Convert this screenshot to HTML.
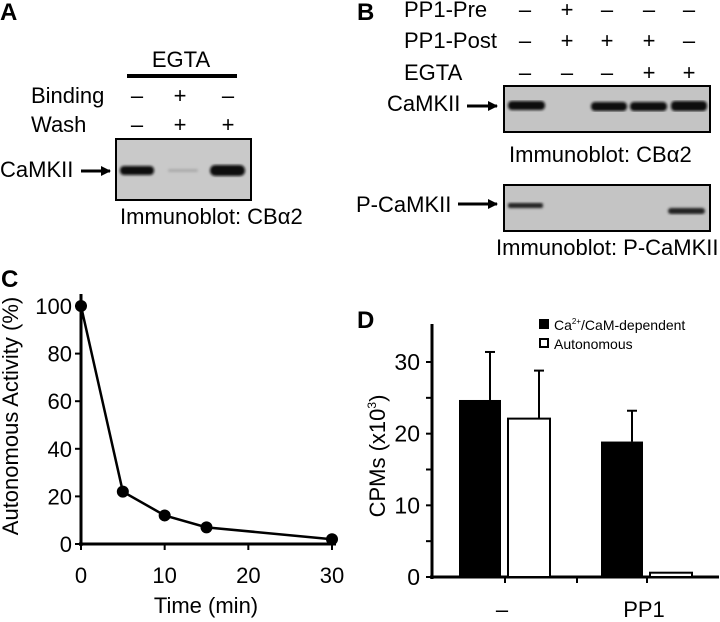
<!DOCTYPE html>
<html><head><meta charset="utf-8"><style>
html,body{margin:0;padding:0;background:#fff;}
svg{display:block;font-family:"Liberation Sans",Arial,sans-serif;}
</style></head><body>
<svg id="fig" width="720" height="622" viewBox="0 0 720 622">
<defs>
<marker id="ah" markerWidth="10" markerHeight="10" refX="9" refY="5" orient="auto" markerUnits="userSpaceOnUse"><path d="M0,0 L10,5 L0,10 Z" fill="#000"/></marker>
<filter id="blur"><feGaussianBlur stdDeviation="1.2"/></filter>
</defs>
<!-- Panel A -->
<g font-size="22">
<text x="0" y="20" font-size="24" font-weight="bold">A</text>
<text x="181" y="67" text-anchor="middle">EGTA</text>
<rect x="127" y="74" width="110" height="4" fill="#000"/>
<text x="31" y="103">Binding</text>
<text x="31" y="132">Wash</text>
<g text-anchor="middle">
<text x="137" y="103">–</text><text x="180" y="103">+</text><text x="228" y="103">–</text>
<text x="137" y="132">–</text><text x="180" y="132">+</text><text x="228" y="132">+</text>
</g>
<rect x="116" y="139" width="135" height="61" fill="#c9c9c9" stroke="#000" stroke-width="2"/>
<g filter="url(#blur)">
<rect x="120" y="166" width="34" height="9" rx="4" fill="#111"/>
<rect x="168" y="169" width="30" height="3" rx="1.5" fill="#aaa"/>
<rect x="210" y="165" width="35" height="11" rx="5" fill="#111"/>
</g>
<text x="0" y="177">CaMKII</text>
<line x1="81" y1="171" x2="110" y2="171" stroke="#000" stroke-width="3" marker-end="url(#ah)"/>
<text x="120" y="224">Immunoblot: CBα2</text>
</g>
<!-- Panel B -->
<g font-size="22">
<text x="357" y="20" font-size="24" font-weight="bold">B</text>
<text x="404" y="17">PP1-Pre</text>
<text x="404" y="48">PP1-Post</text>
<text x="404" y="80">EGTA</text>
<g text-anchor="middle">
<text x="525" y="17">–</text><text x="567" y="17">+</text><text x="607" y="17">–</text><text x="649" y="17">–</text><text x="689" y="17">–</text>
<text x="525" y="48">–</text><text x="567" y="48">+</text><text x="607" y="48">+</text><text x="649" y="48">+</text><text x="689" y="48">–</text>
<text x="525" y="80">–</text><text x="567" y="80">–</text><text x="607" y="80">–</text><text x="649" y="80">+</text><text x="689" y="80">+</text>
</g>
<rect x="504" y="86" width="206" height="46" fill="#c4c4c4" stroke="#000" stroke-width="2"/>
<g filter="url(#blur)">
<rect x="508" y="101" width="37" height="9" rx="4" fill="#111"/>
<rect x="591" y="102" width="36" height="9" rx="4" fill="#111"/>
<rect x="630" y="102" width="37" height="9" rx="4" fill="#111"/>
<rect x="671" y="101" width="36" height="10" rx="4" fill="#111"/>
</g>
<text x="387" y="111">CaMKII</text>
<line x1="467" y1="106" x2="497" y2="106" stroke="#000" stroke-width="3" marker-end="url(#ah)"/>
<text x="509" y="162">Immunoblot: CBα2</text>
<rect x="504" y="185" width="206" height="46" fill="#c4c4c4" stroke="#000" stroke-width="2"/>
<g filter="url(#blur)">
<rect x="508" y="203" width="35" height="5" rx="2" fill="#222"/>
<rect x="668" y="208" width="37" height="6" rx="3" fill="#222"/>
</g>
<text x="356" y="212">P-CaMKII</text>
<line x1="458" y1="204" x2="497" y2="204" stroke="#000" stroke-width="3" marker-end="url(#ah)"/>
<text x="496" y="255">Immunoblot: P-CaMKII</text>
</g>
<!-- Panel C -->
<g id="panelC" font-size="22">
<text x="1" y="287" font-size="24" font-weight="bold">C</text>
<text transform="translate(18,416) rotate(-90)" text-anchor="middle">Autonomous Activity (%)</text>
<text x="206" y="613" text-anchor="middle">Time (min)</text>
</g>
<!-- Panel D -->
<g id="panelD" font-size="22">
<text x="357" y="328" font-size="24" font-weight="bold">D</text>
<text transform="translate(385,456) rotate(-90)" text-anchor="middle">CPMs (x10<tspan font-size="12" dy="-9">3</tspan><tspan dy="9">)</tspan></text>
<rect x="539" y="319" width="10" height="10" fill="#000"/>
<text x="554" y="330" font-size="14">Ca<tspan font-size="8" dy="-6">2+</tspan><tspan dy="6">/CaM-dependent</tspan></text>
<rect x="540" y="339" width="8" height="8" fill="#fff" stroke="#000" stroke-width="2"/>
<text x="554" y="349" font-size="14">Autonomous</text>
</g>
</svg>
<script>
var NS="http://www.w3.org/2000/svg";
// Panel C data
var timeValues=[0,5,10,15,30];
var activityValues=[100,22,12,7,2];
var cXTicks=[0,10,20,30];
var cYTicks=[0,20,40,60,80,100];
// Panel D data
var dCategories=["–","PP1"];
var dependentValues=[24.7,18.9];
var dependentErrors=[6.7,4.3];
var autonomousValues=[22.1,0.6];
var autonomousErrors=[6.7,0];
var dYTicks=[0,10,20,30];

function mk(tag,attrs,parent){var e=document.createElementNS(NS,tag);for(var k in attrs)e.setAttribute(k,attrs[k]);parent.appendChild(e);return e;}

// Panel C
var gc=document.getElementById('panelC');
function cx(v){return 81+v*(332-81)/30;}
function cy(v){return 544-v*(544-306)/100;}
var ax=mk('line',{x1:81,y1:294,x2:81,y2:546,stroke:'#000','stroke-width':3},gc);

var axx=mk('line',{x1:79,y1:544,x2:336,y2:544,stroke:'#000','stroke-width':3},gc);

cYTicks.forEach(function(t){
  mk('line',{x1:75,y1:cy(t),x2:81,y2:cy(t),stroke:'#000','stroke-width':2},gc);
  var tx=mk('text',{x:72,y:cy(t)+8,'text-anchor':'end'},gc);tx.textContent=t;
  
});
cXTicks.forEach(function(t){
  mk('line',{x1:cx(t),y1:544,x2:cx(t),y2:550,stroke:'#000','stroke-width':2},gc);
  var tx=mk('text',{x:cx(t),y:583,'text-anchor':'middle'},gc);tx.textContent=t;
  
});
var pts=timeValues.map(function(t,i){return cx(t)+','+cy(activityValues[i]);}).join(' ');
var pl=mk('polyline',{points:pts,fill:'none',stroke:'#000','stroke-width':2.5},gc);

timeValues.forEach(function(t,i){
  var c=mk('circle',{cx:cx(t),cy:cy(activityValues[i]),r:6,fill:'#000'},gc);
  
});

// Panel D
var gd=document.getElementById('panelD');
function dy(v){return 577-v*(577-362)/30;}
var catCenters=[505,647];
var dax=mk('line',{x1:432,y1:324,x2:432,y2:579,stroke:'#000','stroke-width':3},gd);

var dxx=mk('line',{x1:430,y1:577,x2:719,y2:577,stroke:'#000','stroke-width':3},gd);

for(var m=0;m<=30;m+=5){mk('line',{x1:426,y1:dy(m),x2:432,y2:dy(m),stroke:'#000','stroke-width':2},gd);}
dYTicks.forEach(function(t){
  var tx=mk('text',{x:420,y:dy(t)+8,'text-anchor':'end','font-size':23},gd);tx.textContent=t;
  
});
[505,577,647].forEach(function(x){mk('line',{x1:x,y1:577,x2:x,y2:583,stroke:'#000','stroke-width':2},gd);});
dCategories.forEach(function(c,i){
  var tx=mk('text',{x:catCenters[i]-3,y:617,'text-anchor':'middle','font-size':22},gd);tx.textContent=c;
  
  var bx=catCenters[i]-46,bw=42;
  mk('line',{x1:bx+bw/2+10,y1:dy(dependentValues[i]+dependentErrors[i]),x2:bx+bw/2+10,y2:dy(dependentValues[i]),stroke:'#000','stroke-width':2},gd);
  mk('line',{x1:bx+bw/2+5,y1:dy(dependentValues[i]+dependentErrors[i]),x2:bx+bw/2+15,y2:dy(dependentValues[i]+dependentErrors[i]),stroke:'#000','stroke-width':2},gd);
  var r1=mk('rect',{x:bx,y:dy(dependentValues[i]),width:bw,height:577-dy(dependentValues[i]),fill:'#000'},gd);
  
  var ax2=catCenters[i]+3;
  if(autonomousErrors[i]>0){
    mk('line',{x1:ax2+bw/2+10,y1:dy(autonomousValues[i]+autonomousErrors[i]),x2:ax2+bw/2+10,y2:dy(autonomousValues[i]),stroke:'#000','stroke-width':2},gd);
    mk('line',{x1:ax2+bw/2+5,y1:dy(autonomousValues[i]+autonomousErrors[i]),x2:ax2+bw/2+15,y2:dy(autonomousValues[i]+autonomousErrors[i]),stroke:'#000','stroke-width':2},gd);
  }
  var r2=mk('rect',{x:ax2,y:dy(autonomousValues[i]),width:bw,height:577-dy(autonomousValues[i]),fill:'#fff',stroke:'#000','stroke-width':2},gd);
  
});
</script>
</body></html>
